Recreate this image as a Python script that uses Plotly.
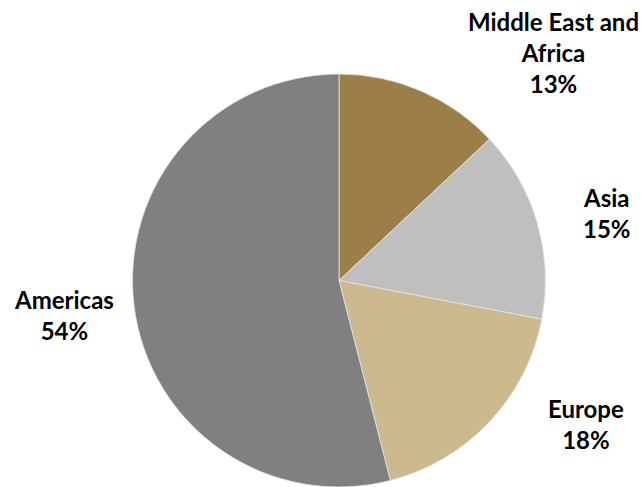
import plotly.graph_objects as go

regions = ["Middle East and Africa", "Asia", "Europe", "Americas"]
shares = [13, 15, 18, 54]
colors = ["#9C7E47", "#BFBFBF", "#CDB98E", "#808080"]
label_text = ["Middle East and<br>Africa", "Asia", "Europe", "Americas"]

W, H = 642, 487

fig = go.Figure(go.Pie(
    labels=regions,
    values=shares,
    sort=False,
    direction="clockwise",
    rotation=0,
    marker=dict(colors=colors, line=dict(color="#E6E6E6", width=0.8)),
    textinfo="none",
    hoverinfo="label+percent",
    showlegend=False,
    domain=dict(x=[131 / W, 547 / W], y=[0, 413 / H]),
))

# label anchor positions in pixels (centre of text block)
label_pos = [(553, 52), (607, 213), (586, 424), (64, 315)]
for txt, val, (px, py) in zip(label_text, shares, label_pos):
    fig.add_annotation(
        x=px / W, y=1 - py / H, xref="paper", yref="paper",
        text=f"{txt}<br>{val}%", showarrow=False,
        xanchor="center", yanchor="middle", align="center",
        font=dict(family="Lato", size=24, color="black", weight="bold"),
    )

fig.update_layout(
    width=W, height=H,
    margin=dict(l=0, r=0, t=0, b=0),
    paper_bgcolor="white", plot_bgcolor="white",
)

fig.write_html("out.html")
